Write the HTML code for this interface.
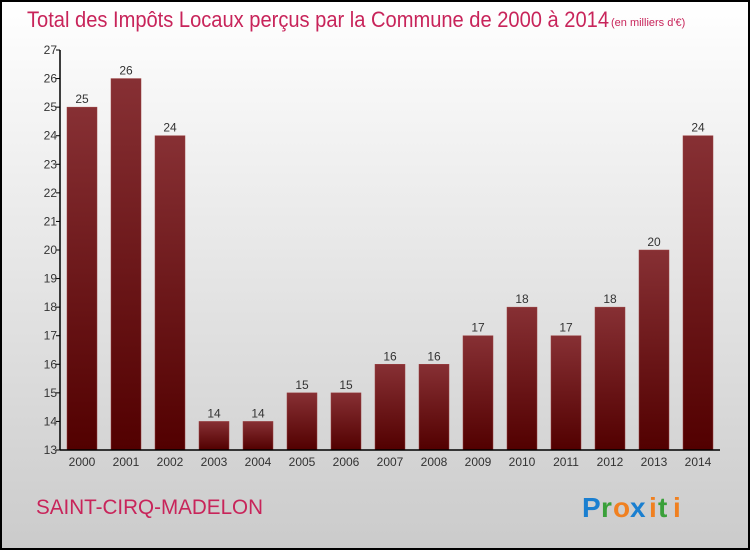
<!DOCTYPE html>
<html><head><meta charset="utf-8"><style>
html,body{margin:0;padding:0}
body{width:750px;height:550px;overflow:hidden;font-family:"Liberation Sans",sans-serif}
</style></head><body>
<svg width="750" height="550" xmlns="http://www.w3.org/2000/svg">
<defs>
<linearGradient id="bg" x1="0" y1="0" x2="0" y2="1"><stop offset="0" stop-color="#ffffff"/><stop offset="1" stop-color="#cbcbcb"/></linearGradient>
<linearGradient id="bar" x1="0" y1="0" x2="0" y2="1"><stop offset="0" stop-color="#873034"/><stop offset="1" stop-color="#520000"/></linearGradient>
</defs>
<rect x="1" y="1" width="748" height="548" fill="url(#bg)" stroke="#000" stroke-width="2"/>
<text x="27" y="27" font-size="22" fill="#c8245a" textLength="582" lengthAdjust="spacingAndGlyphs">Total des Impôts Locaux perçus par la Commune de 2000 à 2014</text>
<text x="611" y="26" font-size="11" fill="#c8245a">(en milliers d'€)</text>
<g id="plot"></g>
<text x="36" y="514" font-size="21" fill="#c8245a" textLength="227" lengthAdjust="spacingAndGlyphs">SAINT-CIRQ-MADELON</text>
<g font-size="28" font-weight="bold" font-family="'Liberation Sans',sans-serif">
<text x="582" y="517" fill="#1a7fd0">P</text><text x="601" y="517" fill="#3aa03a">r</text><text x="613" y="517" fill="#f08020">o</text><text x="630" y="517" fill="#1a7fd0">x</text><text x="649" y="517" fill="#f08020">i</text><text x="658" y="517" fill="#3aa03a">t</text><text x="673" y="517" fill="#f08020">i</text>
</g>
</svg>
<script>
const categories=["2000","2001","2002","2003","2004","2005","2006","2007","2008","2009","2010","2011","2012","2013","2014"];
const values=[25,26,24,14,14,15,15,16,16,17,18,17,18,20,24];
const yTicks=[13,14,15,16,17,18,19,20,21,22,23,24,25,26,27];
const NS="http://www.w3.org/2000/svg";
const g=document.getElementById('plot');
const yMin=13,yMax=27,pTop=50,pBot=450,pLeft=60,pRight=720;
const y=v=>pBot-(v-yMin)/(yMax-yMin)*(pBot-pTop);
const step=44,bw=30;
const x=i=>82+i*step;
function mk(t,a){const e=document.createElementNS(NS,t);for(const k in a)e.setAttribute(k,a[k]);g.appendChild(e);return e;}
values.forEach((v,i)=>{
 const r=mk('rect',{x:x(i)-bw/2,y:y(v),width:bw,height:pBot-y(v),fill:'url(#bar)',stroke:'#9a4040','stroke-width':0.5});
 
 
 const t=mk('text',{x:x(i),y:y(v)-4,'text-anchor':'middle','font-size':12,fill:'#333'});
 t.textContent=v;
 
 
 const c=mk('text',{x:x(i),y:pBot+16,'text-anchor':'middle','font-size':12,fill:'#333'});
 c.textContent=categories[i];
 
 
});
yTicks.forEach(v=>{
 const l=mk('line',{x1:pLeft-4,x2:pLeft,y1:y(v),y2:y(v),stroke:'#000'});
 
 
 const t=mk('text',{x:pLeft-3,y:y(v)+4,'text-anchor':'end','font-size':12,fill:'#333'});
 t.textContent=v;
 
 
});
const ya=mk('line',{x1:pLeft,x2:pLeft,y1:pTop,y2:pBot,stroke:'#000','stroke-width':1.5});


const xa=mk('line',{x1:pLeft,x2:pRight,y1:pBot,y2:pBot,stroke:'#000','stroke-width':1.5});


</script>
</body></html>
